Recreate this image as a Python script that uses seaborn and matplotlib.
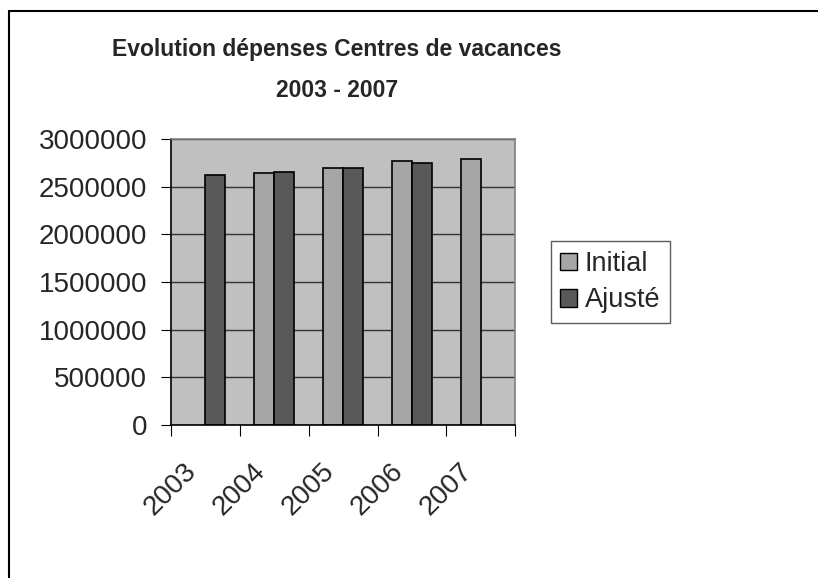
import numpy as np
import pandas as pd
import matplotlib
matplotlib.use("Agg")
import matplotlib.pyplot as plt
from matplotlib.lines import Line2D
from matplotlib.patches import Patch
from matplotlib.transforms import ScaledTranslation
import seaborn as sns

# Donnees
annees = ["2003", "2004", "2005", "2006", "2007"]
initial = [np.nan, 2640000, 2696000, 2773000, 2787000]
ajuste = [2622000, 2650000, 2696000, 2745000, np.nan]
series = ["Initial", "Ajusté"]
couleurs = ["#A6A6A6", "#595959"]

df = pd.DataFrame({"Annee": annees * 2,
                   "Serie": ["Initial"] * 5 + ["Ajusté"] * 5,
                   "Montant": initial + ajuste})

sns.set_style("white")
plt.rcParams["font.family"] = ["Liberation Sans", "DejaVu Sans"]

fig = plt.figure(figsize=(8.18, 5.78), dpi=100)
ax = fig.add_axes([0.209, 0.2647, 0.421, 0.4948])
ax.set_facecolor("#C0C0C0")

sns.barplot(data=df, x="Annee", y="Montant", hue="Serie", hue_order=series,
            order=annees, palette=couleurs, edgecolor="black", linewidth=1.2,
            width=0.58, ax=ax, legend=False, errorbar=None, saturation=1)

ax.set_ylim(0, 3000000)
ax.set_xlim(-0.5, 4.5)
ax.set_yticks(np.arange(0, 3000001, 500000))
ax.set_yticklabels([str(v) for v in range(0, 3000001, 500000)], fontsize=20)
ax.yaxis.grid(True, color="#333333", linewidth=1)
ax.set_axisbelow(True)

# ticks x aux limites des categories
ax.set_xticks(np.arange(-0.5, 5, 1))
ax.set_xticklabels([])
ax.set_xticks(np.arange(0, 5), minor=True)
ax.set_xticklabels(annees, minor=True, fontsize=20, rotation=45,
                   ha="right", va="top", rotation_mode="anchor")
ax.tick_params(axis="x", which="major", length=8, direction="out", color="black",
               bottom=True)
ax.tick_params(axis="x", which="minor", length=0, pad=24)
ax.tick_params(axis="y", length=7, direction="out", color="black", left=True, pad=10)
decalage = ScaledTranslation(-0.22, 0, fig.dpi_scale_trans)
for lab in ax.get_xticklabels(minor=True):
    lab.set_transform(lab.get_transform() + decalage)
ax.set_xlabel("")
ax.set_ylabel("")

for s in ["left", "bottom"]:
    ax.spines[s].set_color("black")
    ax.spines[s].set_linewidth(1.2)
for s in ["top", "right"]:
    ax.spines[s].set_color("#808080")
    ax.spines[s].set_linewidth(1.2)

fig.text(0.412, 0.879, "Evolution dépenses Centres de vacances\n2003 - 2007",
         ha="center", va="center", fontsize=16.5, fontweight="bold",
         linespacing=2.0)

handles = [Patch(facecolor=c, edgecolor="black", label=l) for c, l in zip(couleurs, series)]
fig.legend(handles=handles, loc="center left", bbox_to_anchor=(0.6736, 0.512),
           fontsize=19.5, frameon=True, fancybox=False, edgecolor="#333333",
           handlelength=0.6, handleheight=0.6, handletextpad=0.3,
           borderpad=0.35, labelspacing=0.4, borderaxespad=0)

# cadre du graphique
fig.add_artist(Line2D([0.011, 1.0], [0.981, 0.981], color="black", linewidth=1.5,
                      transform=fig.transFigure))
fig.add_artist(Line2D([0.011, 0.011], [0.0, 0.981], color="black", linewidth=1.5,
                      transform=fig.transFigure))

fig.savefig("out.png", dpi=100)
